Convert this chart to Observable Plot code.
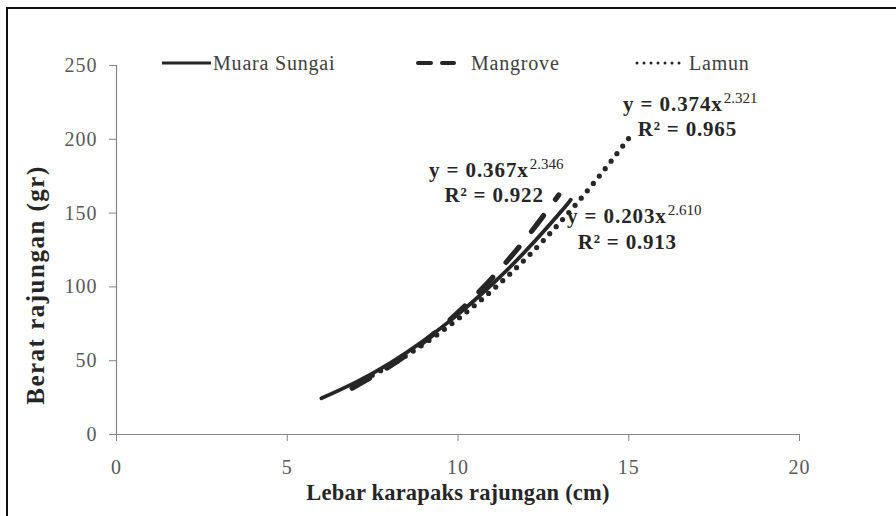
<!DOCTYPE html>
<html><head><meta charset="utf-8">
<script src="https://cdn.jsdelivr.net/npm/d3@7"></script>
<script src="https://cdn.jsdelivr.net/npm/@observablehq/plot@0.6"></script>
<style>
html,body{margin:0;padding:0;background:#fff;}
#wrap{position:relative;width:896px;height:516px;overflow:hidden;}
#frame{position:absolute;left:6px;top:7px;width:900px;height:520px;border-left:2px solid #111;border-top:2px solid #111;pointer-events:none;}
</style></head><body>
<div id="wrap"><div id="chart"></div><div id="frame"></div></div>
<script>
// ---- data ----
const seriesNames = ["Muara Sungai", "Mangrove", "Lamun"];

const widthMuara  = [6, 7, 8, 9, 10, 11, 12, 13, 13.3];
const weightMuara = [24.5, 35.3, 48.2, 63.6, 81.4, 101.8, 124.8, 150.6, 159.0];

const widthMangrove  = [6.9, 8, 9, 10, 11, 12, 12.95];
const weightMangrove = [31.4, 46.2, 62.8, 82.7, 106.1, 133.1, 162.3];

const widthLamun  = [7, 8, 9, 10, 11, 12, 13, 14, 15];
const weightLamun = [34.2, 46.7, 61.3, 78.3, 97.7, 119.5, 144.0, 171.1, 200.7];

const eqCoef = ["y = 0.367x", "y = 0.203x", "y = 0.374x"];
const eqExp  = ["2.346", "2.610", "2.321"];
const eqR2   = ["R\u00b2 = 0.922", "R\u00b2 = 0.913", "R\u00b2 = 0.965"];

const xTicks = [0, 5, 10, 15, 20];
const yTicks = [0, 50, 100, 150, 200, 250];
const xTitle = "Lebar karapaks rajungan (cm)";
const yTitle = "Berat rajungan (gr)";

// ---- build table ----
const rows = [];
function addSeries(name, xs, ys) { xs.forEach((x, i) => rows.push({series: name, x, y: ys[i]})); }
addSeries(seriesNames[0], widthMuara, weightMuara);
addSeries(seriesNames[1], widthMangrove, weightMangrove);
addSeries(seriesNames[2], widthLamun, weightLamun);

const ends = seriesNames.map((s, i) => {
  const pts = rows.filter(r => r.series === s);
  const p = pts[pts.length - 1];
  return {...p, coef: eqCoef[i], exp: eqExp[i], r2: eqR2[i]};
});

const ink = "#262626";
const serif = "Liberation Serif";

const lineStyles = [
  {strokeWidth: 3.8},
  {strokeWidth: 5.2, strokeDasharray: "20,20", strokeLinecap: "round"},
  {strokeWidth: 5.2, strokeDasharray: "0,9.5", strokeLinecap: "round"}
];
// annotation offsets (px) relative to each curve's end point
const annot = [
  {coef: [-42, -30], exp: [-41, -36], r2: [-27, -5], r2Anchor: "end"},
  {coef: [108, 21], exp: [109, 15], r2: [19, 47], r2Anchor: "start"},
  {coef: [94, -34], exp: [95, -40], r2: [9, -9], r2Anchor: "start"}
];

const marks = [
  Plot.ruleX([0], {stroke: "#868686", strokeWidth: 1.2}),
  Plot.ruleY([0], {stroke: "#868686", strokeWidth: 1.2}),
  Plot.axisX({ticks: xTicks, tickSize: 7, tickPadding: 18, stroke: "#868686", fill: "#595959", fontSize: 20, fontFamily: serif, label: null, tickFormat: d => String(d)}),
  Plot.axisY({ticks: yTicks, tickSize: 7, tickPadding: 12, stroke: "#868686", fill: "#595959", fontSize: 20, fontFamily: serif, label: null, tickFormat: d => String(d)}),
  Plot.text([xTitle], {frameAnchor: "bottom", lineAnchor: "middle", textAnchor: "middle", dy: 58, fontSize: 22.5, fontWeight: "bold", fontFamily: serif, fill: ink}),
  Plot.text([yTitle], {frameAnchor: "left", textAnchor: "middle", lineAnchor: "middle", rotate: -90, dx: -81, dy: 35, fontSize: 25, fontWeight: "bold", fontFamily: serif, fill: ink})
];

seriesNames.forEach((s, i) => {
  marks.push(Plot.line(rows.filter(r => r.series === s), {x: "x", y: "y", curve: "natural", stroke: ink, ...lineStyles[i]}));
});

seriesNames.forEach((s, i) => {
  const e = [ends[i]], a = annot[i];
  marks.push(Plot.text(e, {x: "x", y: "y", text: "coef", textAnchor: "end", dx: a.coef[0], dy: a.coef[1], fontSize: 21, fontWeight: "bold", fontFamily: serif, fill: ink}));
  marks.push(Plot.text(e, {x: "x", y: "y", text: "exp", textAnchor: "start", dx: a.exp[0], dy: a.exp[1], fontSize: 15, fontFamily: serif, fill: ink}));
  marks.push(Plot.text(e, {x: "x", y: "y", text: "r2", textAnchor: a.r2Anchor, dx: a.r2[0], dy: a.r2[1], fontSize: 21, fontWeight: "bold", fontFamily: serif, fill: ink}));
});

const chart = Plot.plot({
  width: 896, height: 516,
  marginLeft: 116, marginRight: 97, marginTop: 65, marginBottom: 82,
  style: {fontFamily: serif, background: "#fff", overflow: "visible"},
  x: {domain: [0, 20]},
  y: {domain: [0, 250]},
  marks
});
document.getElementById("chart").appendChild(chart);

// ---- text spacing (the reference's lettering is wide) ----
const svg = d3.select(chart);
const spacingFor = t => {
  if (t === xTitle) return "0.2px";
  if (t === yTitle) return "1.5px";
  if (eqCoef.includes(t)) return "0.9px";
  if (eqR2.includes(t)) return "0.8px";
  if (xTicks.map(String).includes(t) || yTicks.map(String).includes(t)) return "1px";
  return null;
};
svg.selectAll("text").each(function () {
  const sp = spacingFor(this.textContent);
  if (sp) this.style.letterSpacing = sp;
});

// ---- legend (drawn inside the svg, top row) ----
const lg = svg.append("g").attr("font-family", serif).attr("font-size", 20).attr("fill", "#404040").attr("text-anchor", "start");
const legendItems = [
  {x1: 162, x2: 211, tx: 213, dash: null, cap: "butt", w: 3},
  {x1: 418, x2: 454, tx: 471, dash: "13,11", cap: "round", w: 4},
  {x1: 637, x2: 684, tx: 689, dash: "0,7", cap: "round", w: 3}
];
legendItems.forEach((it, i) => {
  const ln = lg.append("line").attr("x1", it.x1).attr("x2", it.x2).attr("y1", 63).attr("y2", 63)
    .attr("stroke", ink).attr("stroke-width", it.w).attr("stroke-linecap", it.cap);
  if (it.dash) ln.attr("stroke-dasharray", it.dash);
  lg.append("text").attr("x", it.tx).attr("y", 63).attr("dy", "0.35em")
    .style("letter-spacing", "0.8px").text(seriesNames[i]);
});
</script>
</body></html>
